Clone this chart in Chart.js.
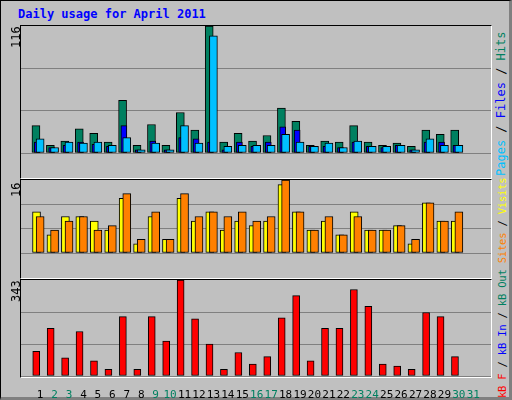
<!DOCTYPE html>
<html><head><meta charset="utf-8">
<script src="https://cdn.jsdelivr.net/npm/chart.js@4"></script>
<style>
body{margin:0;width:512px;height:400px;background:#fff;font-family:"DejaVu Sans Mono",monospace;}
#frame{position:absolute;left:0;top:0;width:508px;height:396px;background:#C0C0C0;border:1px solid #000;border-right:3px solid #808080;border-bottom:3px solid #808080;}
.panel{position:absolute;left:20px;width:470px;border-top:1px solid #000;border-left:1px solid #000;border-right:1px solid #fff;border-bottom:1px solid #fff;}
canvas{position:absolute;}
.t{position:absolute;white-space:nowrap;font-size:11px;}
.rot{transform-origin:0 0;transform:rotate(-90deg);}
</style></head><body>
<div id="frame"></div>
<div class="t" style="left:18px;top:7px;color:#0000FF;font-weight:bold;font-size:12px;">Daily usage for April 2011</div>
<div class="panel" style="top:25px;height:152px"></div>
<div class="panel" style="top:179px;height:98px"></div>
<div class="panel" style="top:279px;height:97px"></div>
<canvas id="c1" width="470" height="151" style="left:21px;top:26px"></canvas>
<canvas id="c2" width="470" height="97" style="left:21px;top:180px"></canvas>
<canvas id="c3" width="470" height="120" style="left:21px;top:280px"></canvas>
<div class="t rot" style="left:9px;top:48px;font-size:12px">116</div>
<div class="t rot" style="left:9px;top:197px;font-size:12px">16</div>
<div class="t rot" style="left:9px;top:302px;font-size:12px">343</div>
<div class="t rot" style="left:494px;top:176px;font-size:12px"><span style="color:#00C0FF">Pages</span> / <span style="color:#0000FF">Files</span> / <span style="color:#008060">Hits</span></div>
<div class="t rot" style="left:496px;top:398px;font-size:10.5px;letter-spacing:-0.2px"><span style="color:#FF0000">kB F</span> / <span style="color:#0000FF">kB In</span> / <span style="color:#008060">kB Out</span> <span style="color:#FF8000">Sites</span> / <span style="color:#FFFF00">Visits</span></div>
<script>
const days = [1,2,3,4,5,6,7,8,9,10,11,12,13,14,15,16,17,18,19,20,21,22,23,24,25,26,27,28,29,30];
const dayLabels = [1,2,3,4,5,6,7,8,9,10,11,12,13,14,15,16,17,18,19,20,21,22,23,24,25,26,27,28,29,30,31];
const weekendDays = [2,3,9,10,16,17,23,24,30,31];
const hits  = [25,7,11,22,18,10,48,7,26,7,37,21,116,10,18,11,16,41,29,7,11,10,25,10,7,9,6,21,17,21];
const files = [10,5,7,10,8,6,25,3,11,3,14,13,10,3,10,6,10,24,21,6,6,5,10,6,5,7,3,10,10,7];
const pages = [13,5,10,9,10,7,14,3,9,3,25,9,107,6,7,7,7,17,10,6,9,5,11,6,6,7,3,13,7,7];
const visits= [9,4,8,8,7,5,12,2,8,3,12,7,9,5,7,6,7,15,9,5,7,4,9,5,5,6,2,11,7,7];
const sites = [8,5,7,8,5,6,13,3,9,3,13,8,9,8,9,7,8,16,9,5,8,4,8,5,5,6,3,11,7,9];
const kbytes= [88,170,65,159,54,24,212,24,212,125,343,204,114,24,84,43,69,208,287,54,170,170,309,249,43,35,24,227,212,69];
const maxTop=116, maxMid=16, maxBot=343;

function ds(vals, off, color, w){
  return {data: vals.map((v,i)=>({x: days[i]+off, y: v})), backgroundColor: color,
    borderColor:'#000', borderWidth:1, barThickness:w, grouped:false, borderSkipped:false};
}
function opts(max, showX){
  return {responsive:false, animation:false, devicePixelRatio:1,
    layout:{padding:0},
    plugins:{legend:{display:false}, tooltip:{enabled:false}},
    scales:{
      x:{type:'linear', min:0.2, max:31.7, display:showX,
        grid:{display:false}, border:{display:false},
        afterBuildTicks:s=>{s.ticks=dayLabels.map(v=>({value:v}));},
        afterFit:s=>{s.height=24;},
        ticks:{autoSkip:false, maxRotation:0, padding:5,
          font:{family:'DejaVu Sans Mono', size:11},
          color:c=>weekendDays.includes(c.tick.value)?'#008060':'#000'}},
      y:{min:0, max:max, afterBuildTicks:s=>{s.ticks=[0,max/3,2*max/3].map(v=>({value:v}));},
        afterFit:s=>{s.width=0;},
        ticks:{display:false}, border:{display:false},
        grid:{color:'#808080', lineWidth:1, drawTicks:false}}
    }};
}
new Chart(document.getElementById('c1'),{type:'bar',data:{datasets:[
  ds(pages,0.0,'#00C0FF',8), ds(files,-0.2,'#0000FF',6), ds(hits,-0.29,'#008060',8)]}, options:opts(maxTop,false)});
new Chart(document.getElementById('c2'),{type:'bar',data:{datasets:[
  ds(sites,0.0,'#FF8000',8), ds(visits,-0.25,'#FFFF00',8)]}, options:opts(maxMid,false)});
new Chart(document.getElementById('c3'),{type:'bar',data:{datasets:[
  ds(kbytes,-0.27,'#FF0000',7)]}, options:opts(maxBot,true)});
</script>
</body></html>
